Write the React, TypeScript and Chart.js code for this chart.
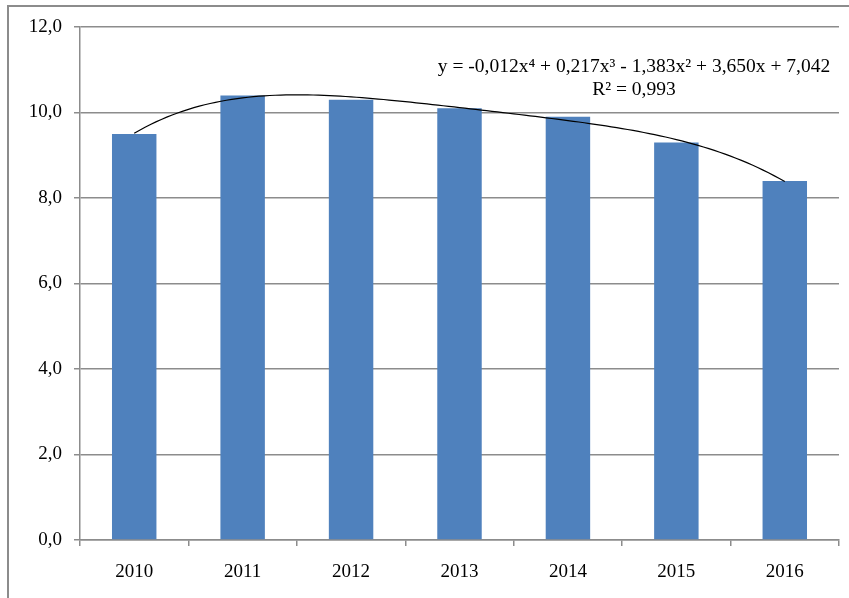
import React, { useEffect, useRef } from "react";
import { Chart, registerables } from "chart.js";

Chart.register(...registerables);

const categories = ["2010", "2011", "2012", "2013", "2014", "2015", "2016"];
const values = [9.5, 10.4, 10.3, 10.1, 9.9, 9.3, 8.4];
const trendDegree = 4;
const equationText = "y = -0,012x⁴ + 0,217x³ - 1,383x² + 3,650x + 7,042";
const r2Text = "R² = 0,993";
const yMin = 0;
const yMax = 12;
const yStep = 2;

const FONT = "'Liberation Serif', 'Times New Roman', serif";

// least-squares polynomial fit of the bar values (x = 1..n), like the spreadsheet trendline
function polyFit(ys: number[], degree: number): number[] {
  const m = degree + 1;
  const A: number[][] = [];
  for (let r = 0; r < m; r++) {
    const row: number[] = [];
    for (let c = 0; c < m; c++) {
      let s = 0;
      ys.forEach((_, i) => {
        s += Math.pow(i + 1, r + c);
      });
      row.push(s);
    }
    let b = 0;
    ys.forEach((y, i) => {
      b += y * Math.pow(i + 1, r);
    });
    row.push(b);
    A.push(row);
  }
  for (let col = 0; col < m; col++) {
    let piv = col;
    for (let r = col + 1; r < m; r++) if (Math.abs(A[r][col]) > Math.abs(A[piv][col])) piv = r;
    [A[col], A[piv]] = [A[piv], A[col]];
    for (let r = 0; r < m; r++) {
      if (r === col) continue;
      const f = A[r][col] / A[col][col];
      for (let c = col; c <= m; c++) A[r][c] -= f * A[col][c];
    }
  }
  return A.map((row, i) => row[m] / row[i]);
}

function trendPoints() {
  const coef = polyFit(values, trendDegree);
  const pts: { x: number; y: number }[] = [];
  const n = 120;
  const last = values.length;
  for (let i = 0; i <= n; i++) {
    const x = 1 + ((last - 1) * i) / n;
    let y = 0;
    coef.forEach((c, k) => {
      y += c * Math.pow(x, k);
    });
    pts.push({ x, y });
  }
  return pts;
}

const decorPlugin = {
  id: "decor",
  beforeDraw(chart: any) {
    const ctx = chart.ctx;
    ctx.save();
    ctx.fillStyle = "#ffffff";
    ctx.fillRect(0, 0, chart.width, chart.height);
    ctx.strokeStyle = "#8c8c8c";
    ctx.lineWidth = 2;
    ctx.beginPath();
    ctx.moveTo(8, chart.height + 2);
    ctx.lineTo(8, 6);
    ctx.lineTo(chart.width + 2, 6);
    ctx.stroke();
    ctx.restore();
  },
  afterDraw(chart: any) {
    const ctx = chart.ctx;
    ctx.save();
    ctx.fillStyle = "#000000";
    ctx.font = `19.5px ${FONT}`;
    ctx.textAlign = "center";
    ctx.textBaseline = "alphabetic";
    ctx.fillText(equationText, 634, 72);
    ctx.fillText(r2Text, 634, 95);
    ctx.restore();
  },
};

export default function App() {
  const ref = useRef<HTMLCanvasElement | null>(null);
  useEffect(() => {
    if (!ref.current) return;
    const chart = new Chart(ref.current, {
      type: "bar",
      data: {
        labels: categories,
        datasets: [
          {
            type: "line",
            data: trendPoints() as any,
            xAxisID: "xl",
            yAxisID: "y",
            borderColor: "#000000",
            borderWidth: 1.2,
            pointRadius: 0,
            fill: false,
            tension: 0,
            order: 0,
          } as any,
          {
            type: "bar",
            data: values,
            xAxisID: "x",
            yAxisID: "y",
            backgroundColor: "#4f81bd",
            borderWidth: 0,
            categoryPercentage: 0.41,
            barPercentage: 1,
            grouped: false,
            order: 1,
          },
        ],
      },
      options: {
        responsive: false,
        animation: false,
        layout: { padding: { left: 0, right: 10, top: 27, bottom: 0 } },
        plugins: {
          legend: { display: false },
          tooltip: { enabled: false },
          title: { display: false },
        },
        scales: {
          x: {
            type: "category",
            offset: true,
            grid: {
              offset: true,
              drawOnChartArea: false,
              drawTicks: true,
              tickLength: 6,
              color: "#8c8c8c",
              lineWidth: 1.5,
            },
            border: { color: "#8c8c8c", width: 1.5 },
            ticks: {
              color: "#000000",
              font: { family: FONT, size: 19 },
              padding: 15,
              maxRotation: 0,
            },
            afterFit(scale: any) {
              scale.height = 58;
            },
          },
          xl: {
            type: "linear",
            axis: "x",
            min: 0.5,
            max: 7.5,
            offset: false,
            grid: { offset: false },
            display: false,
          },
          y: {
            type: "linear",
            min: yMin,
            max: yMax,
            grid: {
              color: "#8c8c8c",
              lineWidth: 1.5,
              drawTicks: true,
              tickLength: 6,
            },
            border: { color: "#8c8c8c", width: 1.5 },
            ticks: {
              stepSize: yStep,
              color: "#000000",
              font: { family: FONT, size: 19 },
              padding: 12,
              callback: (v: any) => Number(v).toFixed(1).replace(".", ","),
            },
            afterFit(scale: any) {
              scale.width = 80;
            },
          },
        },
      } as any,
      plugins: [decorPlugin],
    });
    return () => chart.destroy();
  }, []);
  return (
    <canvas
      ref={ref}
      width={849}
      height={598}
      style={{ position: "absolute", left: 0, top: 0, display: "block" }}
    />
  );
}
